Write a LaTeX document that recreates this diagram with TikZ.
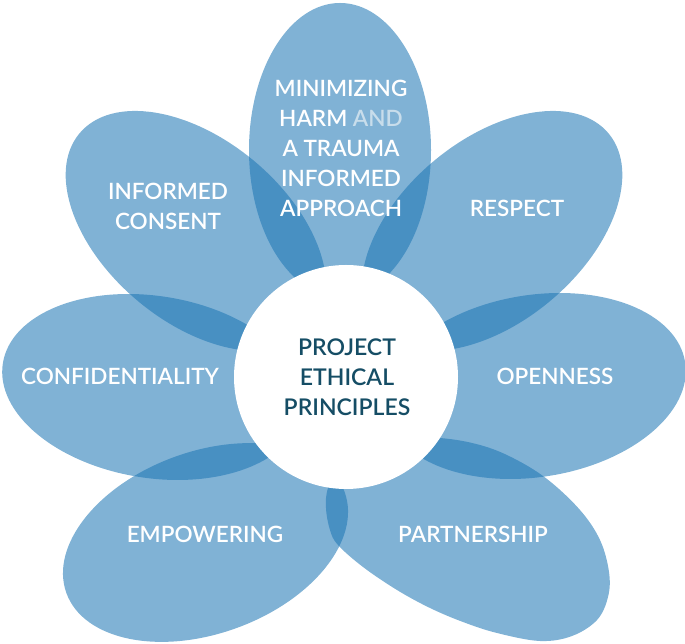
\documentclass[tikz,border=0pt]{standalone}
\usepackage{fontspec}
\setmainfont{Lato}[UprightFont={* Semibold}]
\definecolor{petal}{RGB}{28,117,180}
\definecolor{centertext}{RGB}{21,77,101}
\definecolor{andtext}{RGB}{200,221,235}
\begin{document}
\begin{tikzpicture}[x=1pt,y=1pt,
  petalfill/.style={fill=petal, fill opacity=0.56, draw=none},
  petallabel/.style={text=white, font=\fontsize{22.5}{30}\selectfont, align=center, inner sep=0pt},
  centerlabel/.style={text=centertext, font=\fontsize{23}{30}\selectfont, align=center, inner sep=0pt},
]
\useasboundingbox (0,0) rectangle (685,644);
% petals
\fill[petalfill] (340,494) ellipse [x radius=91, y radius=147];
\fill[petalfill, rotate around={40:(492,413)}] (492,413) ellipse [x radius=152, y radius=91];
\fill[petalfill, rotate around={140:(196,413)}] (196,413) ellipse [x radius=152, y radius=91];
\fill[petalfill, rotate around={9:(535,258)}] (535,258) ellipse [x radius=152, y radius=91];
\fill[petalfill, rotate around={-9:(153,257)}] (153,257) ellipse [x radius=152, y radius=91];
\fill[petalfill, rotate around={20:(205.5,101.5)}] (205.5,101.5) ellipse [x radius=148, y radius=91];
\fill[petalfill] plot[smooth cycle, tension=0.6] coordinates {
  (380,208) (440,206) (480,199) (513,186) (547,165) (580,134) (600,104)
  (609,72) (608,47) (597,24) (572,8) (540,3) (497,11) (463,22) (430,36)
  (397,54) (363,77) (338,99) (330,114) (326,136) (328,156) (340,182) (358,199)};
% centre
\node[circle, fill=white, minimum size=224pt, inner sep=0pt] (hub) at (346,267) {};
\node[centerlabel] (title) at (347,267) {PROJECT\\ETHICAL\\PRINCIPLES};
% labels
\node[petallabel] (harm) at (341,496) {MINIMIZING\\HARM \textcolor{andtext}{AND}\\A TRAUMA\\INFORMED\\APPROACH};
\node[petallabel] (consent) at (168,438) {INFORMED\\CONSENT};
\node[petallabel] (respect) at (517,436) {RESPECT};
\node[petallabel] (conf) at (120,268) {CONFIDENTIALITY};
\node[petallabel] (open) at (555,268) {OPENNESS};
\node[petallabel] (empower) at (205,110) {EMPOWERING};
\node[petallabel] (partner) at (473,110) {PARTNERSHIP};
\end{tikzpicture}
\end{document}
